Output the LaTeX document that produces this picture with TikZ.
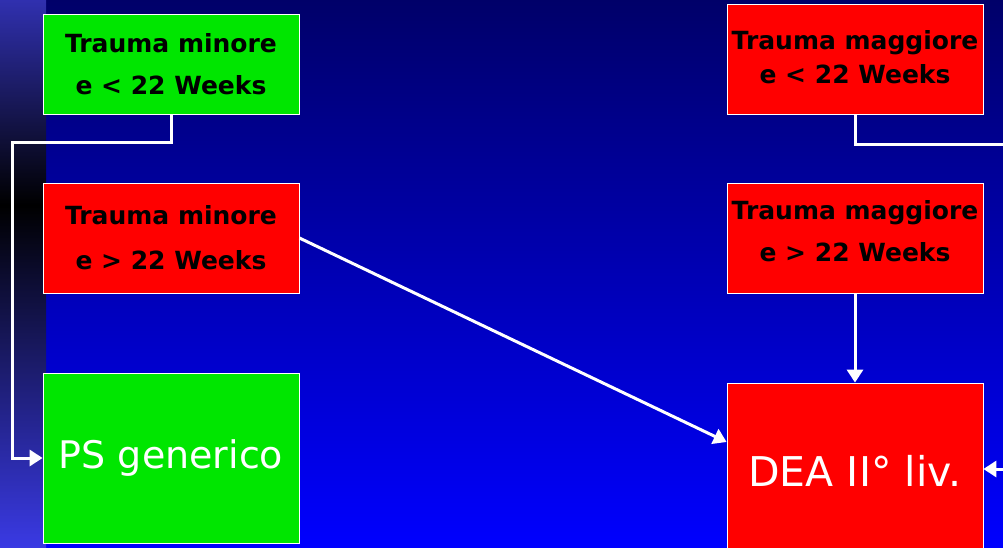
\documentclass[tikz,border=0pt]{standalone}
\usepackage{fontspec}
\setmainfont{DejaVu Sans}
\usetikzlibrary{arrows.meta,positioning}

\definecolor{navytop}{RGB}{0,0,105}
\definecolor{bluebot}{RGB}{0,0,255}
\definecolor{striptop}{RGB}{48,48,175}
\definecolor{stripbot}{RGB}{58,58,228}
\definecolor{boxgreen}{RGB}{0,230,0}
\definecolor{boxred}{RGB}{255,0,0}

\begin{document}
\begin{tikzpicture}[
  x=1pt, y=-1pt,
  box/.style={draw=white,line width=0.8pt,minimum width=256pt,align=center,inner sep=0pt},
  small/.style={box,font=\fontsize{25}{42}\selectfont\bfseries,text=black},
  big/.style={box,font=\fontsize{38}{42}\selectfont,text=white},
  link/.style={draw=white,line width=3pt,-{Triangle[length=13pt,width=16pt]}},
  wire/.style={draw=white,line width=3pt}
]
  \useasboundingbox (0,0) rectangle (1003,548);
  % backdrop
  \shade[top color=navytop, bottom color=bluebot] (46,0) rectangle (1003,548);
  \shade[top color=striptop, bottom color=black] (0,0) rectangle (46,205);
  \shade[top color=black, bottom color=stripbot] (0,205) rectangle (46,548);

  % left column
  \node[small,fill=boxgreen,minimum height=100pt] (minorlow) at (171,64) {Trauma minore\\e < 22 Weeks};
  \node[small,fill=boxred,minimum height=110pt,
        font=\fontsize{25}{45}\selectfont\bfseries] (minorhigh) at (171,238) {Trauma minore\\e > 22 Weeks};
  \node[big,fill=boxgreen,minimum height=170pt] (generico) at (171,458) {PS generico};

  % right column
  \node[small,fill=boxred,minimum height=110pt,text depth=4pt,
        font=\fontsize{25}{34}\selectfont\bfseries] (maggiorelow) at (855,59) {Trauma maggiore\\e < 22 Weeks};
  \node[small,fill=boxred,minimum height=110pt,text depth=14pt] (maggiorehigh) at (855,238) {Trauma maggiore\\e > 22 Weeks};
  \node[big,fill=boxred,minimum height=176pt,font=\fontsize{41}{44}\selectfont] (dea) at (855,471) {DEA II° liv.};

  % connectors
  \coordinate (exitright) at (1003,145);
  \coordinate (entryright) at (1003,469);
  \draw[link] (minorlow.south) |- (12,143) |- (generico.west);
  \draw[link] (minorhigh.east) -- ([yshift=29pt]dea.west);
  \draw[link] (maggiorehigh.south) -- (dea.north);
  \draw[wire] (maggiorelow.south) |- (exitright);
  \draw[link] (entryright) -- (entryright -| dea.east);
\end{tikzpicture}
\end{document}
